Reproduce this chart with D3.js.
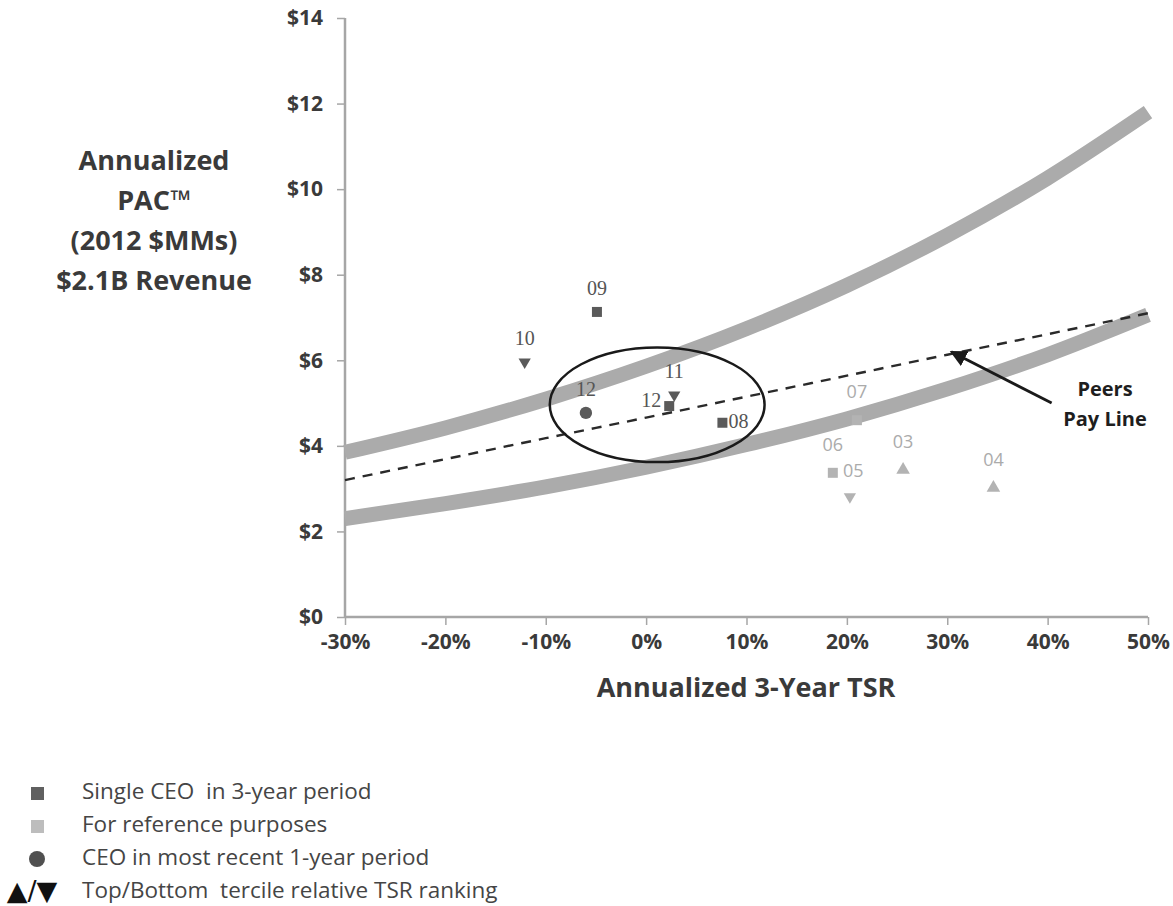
<!DOCTYPE html>
<html>
<head>
<meta charset="utf-8">
<script src="https://cdn.jsdelivr.net/npm/d3@7"></script>
<style>
  html, body { margin: 0; padding: 0; background: #fff; }
  svg { display: block; }
  .legend-text { white-space: pre; }
</style>
</head>
<body>
<svg id="chart" width="1173" height="906"></svg>
<script>
// TSR tick positions (%) and the pay-range curves read at each tick ($MM)
const tsrTicks = [-30, -20, -10, 0, 10, 20, 30, 40, 50];
const payTicks = [0, 2, 4, 6, 8, 10, 12, 14];
const upperBand = [3.85, 4.42, 5.09, 5.86, 6.74, 7.75, 8.92, 10.26, 11.8];
const lowerBand = [2.30, 2.65, 3.04, 3.50, 4.03, 4.63, 5.33, 6.13, 7.06];
const peersLine = [3.20, 3.69, 4.18, 4.66, 5.15, 5.64, 6.13, 6.61, 7.10];

// Company-year observations
const labels  = ["09", "10", "12", "12", "11", "08", "07", "06", "05", "03", "04"];
const tsr     = [-4.9, -12.1, -6.0, 2.3, 2.8, 7.6, 21.0, 18.6, 20.3, 25.6, 34.6];
const pac     = [7.13, 5.96, 4.77, 4.93, 5.19, 4.54, 4.60, 3.37, 2.81, 3.44, 3.02];
const shapes  = ["square", "down", "circle", "square", "down", "square", "square", "square", "down", "up", "up"];
const groups  = ["ceo", "ceo", "ceo", "ceo", "ceo", "ceo", "ref", "ref", "ref", "ref", "ref"];
const labelAt = ["above", "above", "above", "left", "above", "right", "above", "above", "aboveR", "above", "above"];

const legendItems = [
  "Single CEO  in 3-year period",
  "For reference purposes",
  "CEO in most recent 1-year period",
  "Top/Bottom  tercile relative TSR ranking"
];

const svg = d3.select("#chart");
const x = d3.scaleLinear().domain([-30, 50]).range([345, 1148]);
const y = d3.scaleLinear().domain([0, 14]).range([617, 18]);

const dark = "#5a5a5a", light = "#b3b3b3", band = "#ababab", ink = "#3a3a3a";
const sans = "Open Sans, sans-serif";

// Axes
const yAxis = svg.append("g").attr("transform", `translate(${x(-30)},0)`)
  .call(d3.axisLeft(y).tickValues(payTicks).tickFormat(d => "$" + d).tickSize(8).tickPadding(14));
const xAxis = svg.append("g").attr("transform", `translate(0,${y(0)})`)
  .call(d3.axisBottom(x).tickValues(tsrTicks).tickFormat(d => d + "%").tickSize(8).tickPadding(9));
[yAxis, xAxis].forEach(g => {
  g.select(".domain").attr("stroke", "#a6a6a6").attr("stroke-width", 2.5);
  g.selectAll(".tick line").attr("stroke", "#a6a6a6").attr("stroke-width", 1.5);
  g.selectAll(".tick text").attr("fill", ink).attr("font-family", sans)
    .attr("font-weight", "bold").attr("font-size", 21);
});
yAxis.select(".domain").attr("d", `M0,${y(14)}V${y(0)}`);
xAxis.select(".domain").attr("d", `M${x(-30)},0H${x(50)}`);

// Pay range curves and peers pay line
const curve = vals => d3.line().x((d, i) => x(tsrTicks[i])).y(d => y(d)).curve(d3.curveMonotoneX)(vals);
svg.append("path").attr("d", curve(upperBand)).attr("fill", "none").attr("stroke", band).attr("stroke-width", 15);
svg.append("path").attr("d", curve(lowerBand)).attr("fill", "none").attr("stroke", band).attr("stroke-width", 15);
svg.append("path").attr("d", curve(peersLine)).attr("fill", "none").attr("stroke", "#2a2a2a")
  .attr("stroke-width", 2.4).attr("stroke-dasharray", "10,8");

// Highlight ellipse around recent years
svg.append("ellipse")
  .attr("cx", x(1.1)).attr("cy", y(4.96))
  .attr("rx", x(10.7) - x(0)).attr("ry", y(0) - y(1.34))
  .attr("fill", "none").attr("stroke", "#1a1a1a").attr("stroke-width", 2.5);

// Markers
const sym = { square: d3.symbolSquare, circle: d3.symbolCircle, up: d3.symbolTriangle, down: d3.symbolTriangle };
const sz  = { square: 100, circle: 120, up: 80, down: 65 };
labels.forEach((lab, i) => {
  const px = x(tsr[i]), py = y(pac[i]);
  const col = groups[i] === "ceo" ? dark : light;
  svg.append("path")
    .attr("d", d3.symbol().type(sym[shapes[i]]).size(sz[shapes[i]])())
    .attr("transform", `translate(${px},${py})` + (shapes[i] === "down" ? " rotate(180)" : ""))
    .attr("fill", col);
  let tx = px, ty = py - 22, anchor = "middle";
  if (labelAt[i] === "left")  { tx = px - 8; ty = py - 4; anchor = "end"; }
  if (labelAt[i] === "right") { tx = px + 6; ty = py + 1; anchor = "start"; }
  if (labelAt[i] === "aboveR") { tx = px - 7; ty = py - 25; anchor = "start"; }
  if (shapes[i] === "up" || labelAt[i] === "above" && groups[i] === "ref") ty = py - 27;
  svg.append("text").attr("x", tx).attr("y", ty).attr("text-anchor", anchor)
    .attr("dominant-baseline", "middle")
    .attr("font-family", groups[i] === "ceo" ? "Liberation Serif, serif" : sans)
    .attr("font-size", groups[i] === "ceo" ? 20 : 18)
    .attr("fill", groups[i] === "ceo" ? "#555555" : "#ababab")
    .text(lab);
});

// Peers pay line callout
svg.append("defs").append("marker").attr("id", "head")
  .attr("viewBox", "0 0 10 10").attr("refX", 9).attr("refY", 5)
  .attr("markerWidth", 6).attr("markerHeight", 6).attr("orient", "auto")
  .append("path").attr("d", "M0,0L10,5L0,10Z").attr("fill", "#1a1a1a");
svg.append("line")
  .attr("x1", x(40.4)).attr("y1", y(5.0))
  .attr("x2", x(30.4)).attr("y2", y(6.2))
  .attr("stroke", "#1a1a1a").attr("stroke-width", 2.8).attr("marker-end", "url(#head)");
[["Peers", 391], ["Pay Line", 421]].forEach(([t, ty]) => {
  svg.append("text").attr("x", 1105).attr("y", ty).attr("text-anchor", "middle")
    .attr("dominant-baseline", "middle").attr("font-family", sans)
    .attr("font-weight", "bold").attr("font-size", 20).attr("fill", "#1e1e1e").text(t);
});

// Axis titles
const yTitle = ["Annualized", "PAC\u2122", "(2012 $MMs)", "$2.1B Revenue"];
yTitle.forEach((t, i) => {
  svg.append("text").attr("x", 154).attr("y", 163 + i * 40).attr("text-anchor", "middle")
    .attr("dominant-baseline", "middle").attr("font-family", sans)
    .attr("font-weight", "bold").attr("font-size", 27).attr("fill", ink).text(t);
});
svg.append("text").attr("x", 746).attr("y", 690).attr("text-anchor", "middle")
  .attr("dominant-baseline", "middle").attr("font-family", sans)
  .attr("font-weight", "bold").attr("font-size", 27).attr("fill", ink).text("Annualized 3-Year TSR");

// Legend
const lg = svg.append("g");
const ly = [793, 826, 859, 892];
lg.append("rect").attr("x", 31).attr("y", ly[0] - 6).attr("width", 13).attr("height", 13).attr("fill", "#606060");
lg.append("rect").attr("x", 31).attr("y", ly[1] - 6).attr("width", 13).attr("height", 13).attr("fill", "#bdbdbd");
lg.append("circle").attr("cx", 37).attr("cy", ly[2]).attr("r", 8).attr("fill", "#505050");
lg.append("text").attr("x", 32).attr("y", ly[3]).attr("text-anchor", "middle")
  .attr("dominant-baseline", "middle").attr("font-family", "DejaVu Sans, sans-serif")
  .attr("font-size", 27).attr("fill", "#111").text("\u25B2/\u25BC");
legendItems.forEach((t, i) => {
  lg.append("text").attr("class", "legend-text").attr("x", 82).attr("y", ly[i]).attr("dominant-baseline", "middle")
    .attr("font-family", sans).attr("font-size", 22.5).attr("fill", "#454545").text(t);
});
</script>
</body>
</html>
